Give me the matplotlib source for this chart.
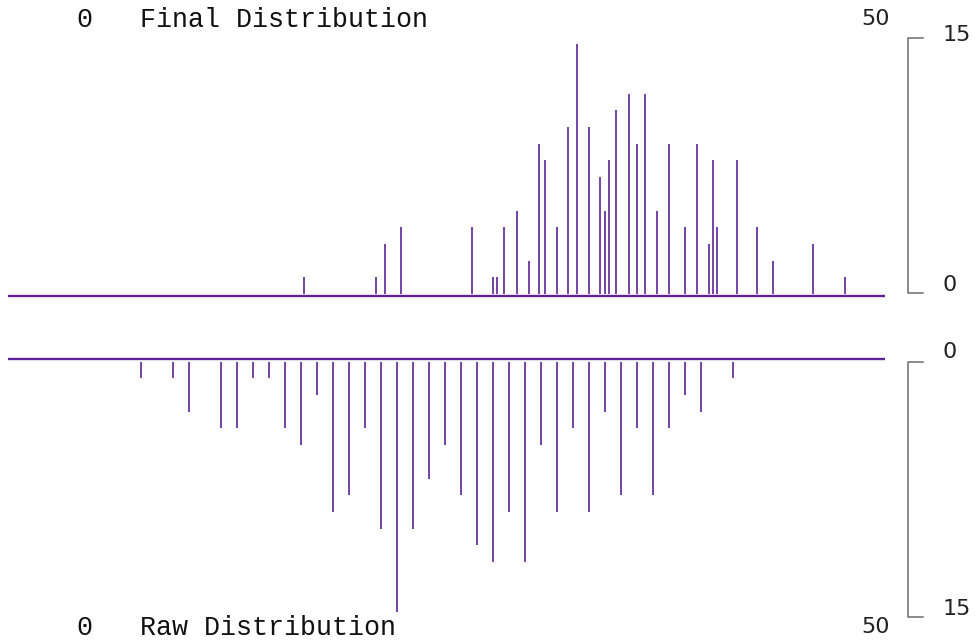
import matplotlib
matplotlib.use("Agg")
import matplotlib.pyplot as plt
import numpy as np

# counts per bin (same order in both panels)
counts = [1, 1, 3, 4, 4, 1, 1, 4, 5, 2, 9, 8, 4, 10, 15, 10, 7, 5, 8, 11,
          12, 9, 12, 5, 9, 4, 9, 3, 8, 4, 8, 4, 2, 3, 1]

# raw positions (integer bins)
raw_x = [4, 6, 7, 9, 10, 11, 12, 13, 14, 15, 16, 17, 18, 19, 20, 21, 22, 23, 24, 25,
         26, 27, 28, 29, 30, 31, 32, 33, 34, 35, 36, 37, 38, 39, 41]

# final positions after relaxation
final_x = [14.19, 18.71, 19.29, 20.29, 24.69, 26.0, 26.27, 26.69, 27.5, 28.29,
           28.89, 29.29, 30.0, 30.69, 31.29, 32.0, 32.69, 33.0, 33.29, 33.69,
           34.5, 35.0, 35.5, 36.29, 37.0, 38.0, 38.79, 39.5, 39.79, 40.0,
           41.29, 42.5, 43.5, 46.0, 48.0]

domain = [-4.3, 50.5]
x_ticks = [0, 50]
y_ticks = [0, 15]

purple = "#5f2299"
gray = "#6b6b6b"
W, H = 980, 641
mono = "Liberation Mono"
sans = "DejaVu Sans"
mono_size = 19.2

fig = plt.figure(figsize=(W / 100, H / 100), dpi=100)

def px_axes(top, bottom):
    return fig.add_axes([0, 1 - bottom / H, 1, (bottom - top) / H])

unit = 16.7
xlim = (-76.7 / 16, (W - 76.7) / 16)

# ---- top: final distribution
ax1 = px_axes(0, 320)
ax1.set_xlim(xlim)
ax1.set_ylim(-(320 - 294) / unit, 294 / unit)
ax1.vlines(final_x, 0, counts, color=purple, lw=1.2)
ax1.hlines(-0.09, domain[0], domain[1], color=purple, lw=1.7)
# bracket
ax1.plot([52.91, 51.98, 51.98, 52.91], [15.35, 15.35, 0.05, 0.05], color=gray, lw=1.1)
ax1.text(54.1, 15.5, str(y_ticks[1]), fontsize=16, family=sans, color="#222222", va="center", ha="left")
ax1.text(54.1, 0.54, str(y_ticks[0]), fontsize=16, family=sans, color="#222222", va="center", ha="left")
ax1.text(x_ticks[1] - 0.04, 16.47, str(x_ticks[1]), fontsize=16, family=sans, color="#222222", va="center", ha="center")
ax1.text(x_ticks[0] + 0.46, 16.38, str(x_ticks[0]), fontsize=mono_size, family=mono, color="#111111", va="center", ha="center")
ax1.text(3.96, 16.38, "Final Distribution", fontsize=mono_size, family=mono, color="#111111", va="center", ha="left")
ax1.axis("off")

# ---- bottom: raw distribution
ax2 = px_axes(330, H)
ax2.set_xlim(xlim)
ax2.set_ylim((H - 361.7) / unit, -(361.7 - 330) / unit)
ax2.vlines(raw_x, 0, counts, color=purple, lw=1.2)
ax2.hlines(-0.16, domain[0], domain[1], color=purple, lw=1.7)
ax2.plot([52.91, 51.98, 51.98, 52.91], [0, 0, 15.27, 15.27], color=gray, lw=1.1)
ax2.text(54.1, -0.56, str(y_ticks[0]), fontsize=16, family=sans, color="#222222", va="center", ha="left")
ax2.text(54.1, 14.8, str(y_ticks[1]), fontsize=16, family=sans, color="#222222", va="center", ha="left")
ax2.text(x_ticks[1] - 0.04, 15.87, str(x_ticks[1]), fontsize=16, family=sans, color="#222222", va="center", ha="center")
ax2.text(x_ticks[0] + 0.46, 15.95, str(x_ticks[0]), fontsize=mono_size, family=mono, color="#111111", va="center", ha="center")
ax2.text(3.96, 15.95, "Raw Distribution", fontsize=mono_size, family=mono, color="#111111", va="center", ha="left")
ax2.axis("off")

fig.savefig("out.png", dpi=100)
